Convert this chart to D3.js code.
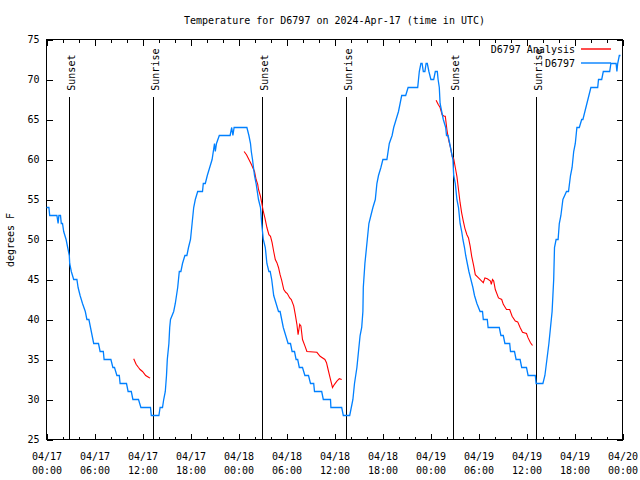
<!DOCTYPE html>
<html><head><meta charset="utf-8">
<script src="https://cdn.jsdelivr.net/npm/d3@7"></script>
<style>
body{margin:0;background:#fff}
text{font-family:"DejaVu Sans Mono","Liberation Mono",monospace;font-size:10px;fill:#000}
</style>
</head><body>
<svg id="chart" width="640" height="480"></svg>
<script>
// ---------------- data ----------------
const chartTitle = "Temperature for D6797 on 2024-Apr-17 (time in UTC)";
const yAxisLabel = "degrees F";
const yTickValues = [25, 30, 35, 40, 45, 50, 55, 60, 65, 70, 75];
// hours since 2024-04-17 00:00 UTC
const xTickHours = [0, 6, 12, 18, 24, 30, 36, 42, 48, 54, 60, 66, 72];
const xTickDates = ["04/17","04/17","04/17","04/17","04/18","04/18","04/18","04/18","04/19","04/19","04/19","04/19","04/20"];
const xTickTimes = ["00:00","06:00","12:00","18:00","00:00","06:00","12:00","18:00","00:00","06:00","12:00","18:00","00:00"];
const xMinorHours = [2,4,8,10,14,16,20,22,26,28,32,34,38,40,44,46,50,52,56,58,62,64,68,70];
const sunNames = ["Sunset", "Sunrise", "Sunset", "Sunrise", "Sunset", "Sunrise"];
const sunHours = [2.85, 13.3, 26.88, 37.38, 50.75, 61.2];
const legendNames = ["D6797 Analysis", "D6797"];

// observed station temperature (blue)
const obsHours = [0,0.3,0.4,1.3,1.45,1.55,1.75,1.85,2.0,2.15,2.45,2.65,2.85,2.9,3.1,3.4,3.8,3.95,4.2,4.5,4.85,5.05,5.3,5.5,5.9,6.5,6.7,7.1,7.2,8.05,8.3,8.5,8.8,9.1,9.2,10.0,10.2,10.6,10.8,11.5,11.8,13.0,13.1,14.05,14.2,14.5,14.65,14.85,15.0,15.1,15.3,15.4,15.5,15.9,16.1,16.4,16.6,16.8,17.0,17.3,17.55,17.75,18.0,18.2,18.4,18.6,18.9,19.5,19.6,19.85,20.1,20.4,20.7,21.0,21.1,21.25,21.6,22.95,23.15,23.3,23.45,25.05,25.3,25.5,25.6,25.75,26.0,26.2,26.5,26.75,26.9,27.1,27.35,27.55,27.8,27.96,28.15,28.4,28.7,29.0,29.2,29.4,29.6,29.9,30.2,30.5,30.7,31.0,31.2,31.4,31.6,32.0,32.3,32.75,33.0,33.4,33.5,34.4,34.6,35.5,35.55,36.9,37.1,37.9,38.1,38.3,38.5,38.8,39.0,39.2,39.4,39.55,39.6,39.8,40.0,40.1,40.3,40.55,40.8,41.1,41.3,41.5,41.8,42.05,42.55,42.85,43.2,43.4,43.7,44.0,44.2,44.4,44.9,45.2,46.4,46.5,46.6,46.8,46.95,47.1,47.3,47.45,47.6,47.8,48.05,48.4,48.6,48.85,48.95,49.1,49.2,49.4,49.6,49.9,50.0,50.2,50.4,50.6,50.8,50.9,51.1,51.3,51.5,51.7,51.9,52.05,52.25,52.4,52.6,52.8,53.05,53.3,53.5,53.8,54.2,54.5,54.6,55.1,55.2,56.6,56.8,57.1,57.3,57.9,58.0,58.5,58.7,59.2,59.4,60.0,60.2,61.1,61.2,62.05,62.3,62.55,62.8,63.0,63.2,63.3,63.4,63.5,63.7,63.95,64.1,64.3,64.55,65.0,65.25,65.5,65.7,65.9,66.1,66.3,66.6,66.9,67.05,67.3,67.55,67.8,68.05,68.9,69.0,69.4,69.6,70.4,70.55,71.2,71.3,71.4,71.6,71.75];
const obsTemps = [54,54,53,53,52,53,53,52,52,51,50,49,48,47,46,45,45,44,43,42,41,40,40,39,37,37,36,36,35,35,34,34,33,33,32,32,31,31,30,30,29,29,28,28,29,29,30,31,33,35,37,39,40,41,42,44,46,46,47,48,48,49,50,52,54,55,56,56,57,57,58,59,60,62,61,62,63,63,64,63,64,64,63,62,61,60,58,57,55,54,52,50,49,47,46,46,45,43,42,41,41,40,39,38,37,37,36,36,35,35,34,34,33,33,32,32,31,31,30,30,29,29,28,28,29,30,32,34,36,38,39,41,44,47,49,50,52,53,54,55,57,58,59,60,60,62,63,64,65,66,67,68,68,69,69,70,71,72,72,71,71,72,72,71,70,70,71,71,70,69,67,66,65,64,63,63,62,61,60,58,57,55,54,52,51,50,49,48,47,46,45,44,43,42,41,41,40,40,39,39,38,38,37,37,36,36,35,35,34,34,33,33,32,32,33,35,37,39,41,43,45,49,50,50,52,53,55,56,56,58,59,61,62,64,64,65,65,66,67,68,69,69,70,70,71,71,72,72,71,72,73,73];

// analysis temperature (red), null separates segments
const anlHours = [10.9,11.2,11.5,11.7,12.0,12.4,12.8,12.95, null,
  24.7,25.0,25.3,25.6,26.0,26.2,26.4,26.5,26.75,26.9,27.1,27.3,27.55,27.8,28.0,28.2,28.4,28.6,28.8,29.0,29.2,29.4,29.66,29.9,30.1,30.4,30.6,30.9,31.1,31.3,31.45,31.55,31.65,31.8,32.0,32.3,32.55,33.8,34.2,34.8,35.0,35.2,35.45,35.75,36.0,36.3,36.6,36.9, null,
  48.7,48.95,49.2,49.45,49.7,49.85,50.05,50.25,50.5,50.7,50.9,51.1,51.3,51.5,51.7,51.9,52.1,52.3,52.55,52.75,52.95,53.15,53.4,53.6,54.0,54.4,54.6,54.8,55.1,55.5,55.6,55.75,55.9,56.1,56.5,56.9,57.1,57.5,57.9,58.2,58.6,58.9,59.2,59.5,60.0,60.2,60.5,60.75];
const anlTemps = [35.1,34.4,34.0,33.75,33.5,33.0,32.75,32.7, null,
  61.0,60.6,60.0,59.4,58.5,57.5,56.9,56.25,55.4,54.6,53.5,52.7,51.5,50.6,50.4,49.6,48.5,47.5,47.1,46.5,45.6,44.9,43.75,43.4,43.25,42.7,42.5,41.7,40.6,39.4,38.1,38.75,39.4,39.2,37.5,36.7,36.0,35.9,35.4,35.0,34.6,33.75,32.7,31.5,31.9,32.3,32.6,32.5, null,
  67.4,66.9,66.5,65.6,65.4,65.4,63.75,62.5,61.5,60.4,60.1,59.0,57.9,56.25,54.6,53.3,52.3,51.4,50.6,50.2,49.2,47.9,46.7,45.6,45.2,44.8,44.6,45.2,45.1,44.8,44.4,45.0,44.8,43.75,42.7,42.5,41.9,41.25,41.25,40.4,39.8,39.7,39.0,38.4,38.25,37.7,37.1,36.75];

// ---------------- drawing ----------------
const svg = d3.select("#chart");
const L = 46.5, R = 622.5, T = 39.5, B = 439.5;
const x = d3.scaleLinear().domain([0, 72]).range([L, R]);
const y = d3.scaleLinear().domain([25, 75]).range([B, T]);

const blue = "#0080ff", red = "#ff0000";

// title
svg.append("text").attr("x", (L + R) / 2).attr("y", 24)
  .attr("text-anchor", "middle").text(chartTitle);

// y label
svg.append("text").attr("transform", "translate(14,240) rotate(-90)")
  .attr("text-anchor", "middle").text(yAxisLabel);

// axes
function styleAxis(g) {
  g.select(".domain").remove();
  g.selectAll(".tick line").attr("stroke", "#000").attr("shape-rendering", "crispEdges");
}
svg.append("g").attr("transform", `translate(0,${B})`)
  .call(d3.axisBottom(x).tickValues(xMinorHours).tickSize(-3).tickFormat(""))
  .call(styleAxis);
svg.append("g").attr("transform", `translate(0,${T})`)
  .call(d3.axisTop(x).tickValues(xMinorHours).tickSize(-3).tickFormat(""))
  .call(styleAxis);
svg.append("g").attr("transform", `translate(0,${T})`)
  .call(d3.axisTop(x).tickValues(xTickHours).tickSize(-6).tickFormat(""))
  .call(styleAxis);
const xb = svg.append("g").attr("transform", `translate(0,${B})`)
  .call(d3.axisBottom(x).tickValues(xTickHours).tickSize(-6).tickFormat(""))
  .call(styleAxis);
xb.selectAll(".tick").each(function(d, i) {
  const t = d3.select(this).append("text").attr("text-anchor", "middle").attr("fill", "#000");
  t.append("tspan").attr("x", 0).attr("y", 20).text(xTickDates[i]);
  t.append("tspan").attr("x", 0).attr("y", 34).text(xTickTimes[i]);
});
svg.append("g").attr("transform", `translate(${L},0)`)
  .call(d3.axisLeft(y).tickValues(yTickValues).tickSize(-6).tickPadding(7))
  .call(styleAxis)
  .call(g => g.selectAll("text").attr("fill", "#000").style("font-size", "10px")
     .style("font-family", '"DejaVu Sans Mono","Liberation Mono",monospace'));
svg.append("g").attr("transform", `translate(${R},0)`)
  .call(d3.axisRight(y).tickValues(yTickValues).tickSize(-6).tickFormat(""))
  .call(styleAxis);

// frame
svg.append("rect").attr("x", L).attr("y", T).attr("width", R - L).attr("height", B - T)
  .attr("fill", "none").attr("stroke", "#000").attr("shape-rendering", "crispEdges");

// sunrise / sunset lines
const sun = svg.append("g");
sunHours.forEach((h, i) => {
  const sx = Math.round(x(h)) + 0.5;
  sun.append("line").attr("x1", sx).attr("x2", sx).attr("y1", y(67.8)).attr("y2", B)
    .attr("stroke", "#000").attr("stroke-width", 1.2).attr("shape-rendering", "crispEdges");
  sun.append("text").attr("transform", `translate(${sx + 5.5},${y(68.6)}) rotate(-90)`)
    .attr("text-anchor", "start").text(sunNames[i]);
});

// data lines
const obs = obsHours.map((h, i) => [h, obsTemps[i]]);
const anl = anlHours.map((h, i) => [h, anlTemps[i]]);
const line = d3.line().defined(d => d[0] !== null && d[1] !== null)
  .x(d => x(d[0])).y(d => y(d[1]));

svg.append("path").datum(anl).attr("d", line)
  .attr("fill", "none").attr("stroke", red).attr("stroke-width", 1.1);
svg.append("path").datum(obs).attr("d", line)
  .attr("fill", "none").attr("stroke", blue).attr("stroke-width", 1.3);

// legend
const lg = svg.append("g");
const legendColors = [red, blue];
const legendY = [49, 63];
legendNames.forEach((name, i) => {
  lg.append("text").attr("x", 575).attr("y", legendY[i] + 3.5).attr("text-anchor", "end").text(name);
  lg.append("line").attr("x1", 581).attr("x2", 611).attr("y1", legendY[i]).attr("y2", legendY[i])
    .style("stroke", legendColors[i]).style("stroke-width", "1.4px");
});
</script>
</body></html>
